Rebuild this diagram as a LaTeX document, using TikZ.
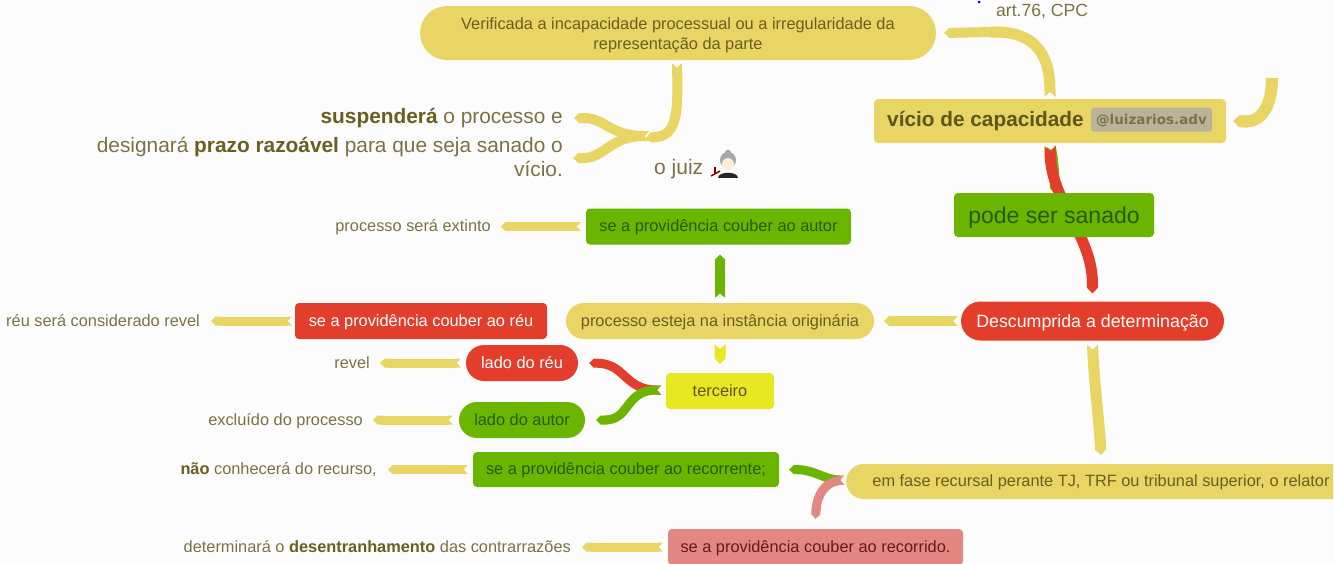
\documentclass[tikz,border=0pt]{standalone}
\usepackage{fontspec}
\setmainfont{Liberation Sans}
\usetikzlibrary{arrows.meta,backgrounds,shapes.misc}
\newfontfamily\tagfont{DejaVu Sans}
\definecolor{ye}{HTML}{E8D563}
\definecolor{gr}{HTML}{6AB500}
\definecolor{re}{HTML}{E33E2B}
\definecolor{pk}{HTML}{E38783}
\definecolor{lem}{HTML}{E9E622}
\definecolor{tx}{HTML}{7B7243}
\definecolor{txb}{HTML}{6A5F22}
\definecolor{dk}{HTML}{5F5520}
\definecolor{dg}{HTML}{2A5A00}
\definecolor{tagbg}{HTML}{B9B39A}
\newdimen\swW
\pgfdeclarearrow{
  name=Swallow,
  parameters={\the\pgflinewidth},
  setup code={
    \swW=\pgflinewidth
    \pgfarrowssavethe\swW
    \pgfarrowssettipend{.5\swW}
    \pgfarrowssetlineend{0pt}
    \pgfarrowssetbackend{-.3pt}
    \pgfarrowssetvisualbackend{-.3pt}
  },
  drawing code={
    \pgfpathmoveto{\pgfpoint{-.3pt}{.5\swW}}
    \pgfpathlineto{\pgfpoint{.5\swW}{.5\swW}}
    \pgfpathlineto{\pgfpoint{.05\swW}{0pt}}
    \pgfpathlineto{\pgfpoint{.5\swW}{-.5\swW}}
    \pgfpathlineto{\pgfpoint{-.3pt}{-.5\swW}}
    \pgfpathclose
    \pgfusepathqfill
  }
}
\tikzset{
  x=1pt,y=-1pt,
  ribbon/.style={line width=#1,{Swallow[]}-{Triangle Cap[]}},
  ribbon/.default=11pt,
  blunt/.style={line width=12pt,-{Triangle Cap[]}},
  box/.style={shape=rectangle,rounded corners=4pt,inner sep=0pt,align=center},
  pill/.style={shape=rounded rectangle,inner sep=0pt,align=center},
  f16/.style={font=\fontsize{16.35}{20}\selectfont},
  low/.style={text height=12.6pt,text depth=2pt},
  lbl/.style={inner sep=0pt,text=tx,f16,low},
}
\begin{document}
\begin{tikzpicture}
\useasboundingbox (0,0) rectangle (1334,563);
\clip (0,0) rectangle (1334,563);
% nodes
\node[pill,fill=ye,minimum width=516pt,minimum height=54pt,text=txb,f16] (verif) at (678,33)
  {\rule{0pt}{16pt}Verificada a incapacidade processual ou a irregularidade da\\representação da parte};
\node[box,fill=ye,minimum width=352pt,minimum height=44pt] (vicio) at (1050,121) {};
\node[anchor=west,inner sep=0pt,text=dk,font=\fontsize{20.8}{24}\selectfont\bfseries] (viciot) at (887,121) {vício de capacidade};
\node[box,fill=tagbg,rounded corners=3pt,minimum width=121pt,minimum height=24pt,text=tx,font=\tagfont\fontsize{13.5}{16}\selectfont\bfseries,text height=11.5pt,text depth=1.5pt] (tag) at (1151.5,119.5) {@luizarios.adv};
\node[inner sep=0pt,text=tx,anchor=west,font=\fontsize{17.6}{20}\selectfont] (art) at (996,11) {art.76, CPC};
\fill[blue!70!black] (979,2) circle (1.5);
\node[box,fill=gr,minimum width=200pt,minimum height=44pt,text=dg,font=\fontsize{23}{26}\selectfont,text height=18.5pt,text depth=2.5pt] (pode) at (1054,215) {pode ser sanado};
\node[pill,fill=re,minimum width=263pt,minimum height=39pt,text=white,font=\fontsize{17.8}{22}\selectfont,text height=14pt,text depth=2pt] (desc) at (1092.5,321) {Descumprida a determinação};
\node[pill,fill=ye,minimum width=308pt,minimum height=36pt,text=txb,f16,low] (inst) at (720,321) {processo esteja na instância originária};
\node[box,fill=gr,minimum width=265pt,minimum height=36pt,text=dg,f16,low] (autor) at (718.5,226.5) {se a providência couber ao autor};
\node[lbl,anchor=east] (extinto) at (491,226.5) {processo será extinto};
\node[box,fill=re,minimum width=252pt,minimum height=36pt,text=white,f16,low] (reu) at (421,321) {se a providência couber ao réu};
\node[lbl,anchor=east] (revelc) at (200,321) {réu será considerado revel};
\node[pill,fill=re,minimum width=112pt,minimum height=36pt,text=white,f16,low] (ladoreu) at (522,363) {lado do réu};
\node[lbl,anchor=east] (revel) at (370,363) {revel};
\node[pill,fill=gr,minimum width=126pt,minimum height=36pt,text=dg,f16,low] (ladoautor) at (522,420) {lado do autor};
\node[lbl,anchor=east] (excl) at (363,420) {excluído do processo};
\node[box,fill=lem,minimum width=108pt,minimum height=36pt,text=dk,f16,low] (terc) at (720,391) {terceiro};
\node[box,fill=gr,minimum width=306pt,minimum height=35pt,text=dg,f16,low] (recte) at (626,469.5) {se a providência couber ao recorrente;};
\node[lbl,anchor=east] (naocon) at (377,469.5) {\textcolor{txb}{\bfseries não} conhecerá do recurso,};
\node[pill,rounded rectangle right arc=none,fill=ye,minimum width=487pt,minimum height=35pt,text=txb,f16,low] (fase) at (1090.5,481.5) {\hspace*{21pt}em fase recursal perante TJ, TRF ou tribunal superior, o relator};
\node[box,fill=pk,minimum width=295pt,minimum height=36pt,text=black!55!re,f16,low] (recdo) at (815.5,547) {se a providência couber ao recorrido.};
\node[lbl,anchor=east] (desent) at (571,547) {determinará o \textcolor{txb}{\bfseries desentranhamento} das contrarrazões};
% left text
\node[anchor=east,inner sep=0pt,text=tx,font=\fontsize{20.85}{24}\selectfont] (susp) at (563,118) {\textcolor{txb}{\bfseries suspenderá} o processo e};
\node[anchor=north east,inner sep=0pt,text=tx,align=right,font=\fontsize{20.85}{24}\selectfont] (desig) at (563,137)
  {designará \textcolor{txb}{\bfseries prazo razoável} para que seja sanado o\\vício.};
\node[anchor=west,inner sep=0pt,text=tx,font=\fontsize{21}{24}\selectfont] (juiz) at (654,169) {o juiz};
% small judge figure
\fill[black!85] (718,178) .. controls (718,171) and (738,171) .. (738,178) -- cycle;
\fill[gray!70] (728,160) circle (8);
\fill[gray!70] (728,153) circle (3.2);
\fill[orange!15!white] (728,164) circle (6);
\fill[gray!70] (722,160) .. controls (725,157) and (731,157) .. (734,160) -- (734,156) -- (722,156) -- cycle;
\draw[red!50!black,line width=2.5pt] (715,167) -- (715,173);
\draw[red!50!black,line width=1.4pt] (711,176) -- (720,171);
% connectors
\coordinate (j1) at (990,32);
\coordinate (free1) at (1272,78);
\coordinate (j2) at (649,136);
\coordinate (j3) at (661,390);
\coordinate (j4) at (844,480);
\begin{scope}[on background layer]
\fill[white!99!black] (0,0) rectangle (1334,563);
\draw[ye,ribbon] ([yshift=2pt]vicio.north) .. controls (1050,70) and (1046,32) .. (985,32);
\draw[ye,ribbon=10pt] (j1) -- ([xshift=8pt]verif.east);
\draw[ye,blunt] (free1) .. controls (1272,105) and (1262,122) .. ([xshift=7pt]vicio.east);
\draw[gr,ribbon=9pt] ([yshift=-3pt,xshift=1pt]vicio.south) .. controls (1054,160) and (1055,175) .. (pode.north);
\draw[re,ribbon] ([yshift=-3pt]vicio.south) .. controls (1050,200) and (1092,235) .. ([yshift=8pt]desc.north);
\draw[ye,ribbon=11pt] ([yshift=-4pt]desc.south) .. controls (1094,380) and (1099,420) .. (1101,455);
\draw[ye,ribbon=10pt] ([xshift=-3pt]desc.west) -- ([xshift=10pt]inst.east);
\draw[gr,ribbon=10pt] ([yshift=5pt]inst.north) -- ([yshift=-10pt]inst.north |- autor.south);
\draw[lem,ribbon=11pt] ([yshift=-5pt]inst.south) -- ([yshift=9pt]terc.north);
\draw[ye,ribbon=9pt] ([xshift=-5pt]autor.west) -- ([xshift=10pt]extinto.east);
\draw[ye,ribbon=9pt] ([xshift=-3pt]reu.west) -- ([xshift=11pt]revelc.east);
\draw[ye,ribbon=9pt] ([xshift=-5pt]ladoreu.west) -- ([xshift=10pt]revel.east);
\draw[ye,ribbon=9pt] ([xshift=-6pt]ladoautor.west) -- ([xshift=10pt]excl.east);
\draw[ye,ribbon=9pt] ([xshift=-5pt]recte.west) -- ([xshift=11pt]naocon.east);
\draw[ye,ribbon=9pt] ([xshift=-5pt]recdo.west) -- ([xshift=11pt]desent.east);
% judge branch
\draw[ye,ribbon=10pt] ([yshift=-3pt,xshift=-1pt]verif.south) .. controls (678,110) and (678,135) .. (646,138);
\draw[ye,ribbon=10pt] (j2) .. controls (610,136) and (605,118) .. ([xshift=11pt]susp.east);
\draw[ye,ribbon=10pt] (j2) .. controls (610,136) and (605,158) .. (573,158);
% terceiro branch
\draw[re,ribbon=9pt] (j3) .. controls (625,390) and (625,364) .. ([xshift=11pt]ladoreu.east);
\draw[gr,ribbon=9pt] (j3) .. controls (625,390) and (630,420) .. ([xshift=11pt]ladoautor.east);
% fase branch
\draw[gr,ribbon=9pt] (j4) .. controls (825,480) and (815,470) .. ([xshift=10pt]recte.east);
\draw[pk,ribbon=9pt] (j4) .. controls (825,482) and (817,495) .. ([yshift=10pt]recdo.north);
\end{scope}
\end{tikzpicture}
\end{document}
